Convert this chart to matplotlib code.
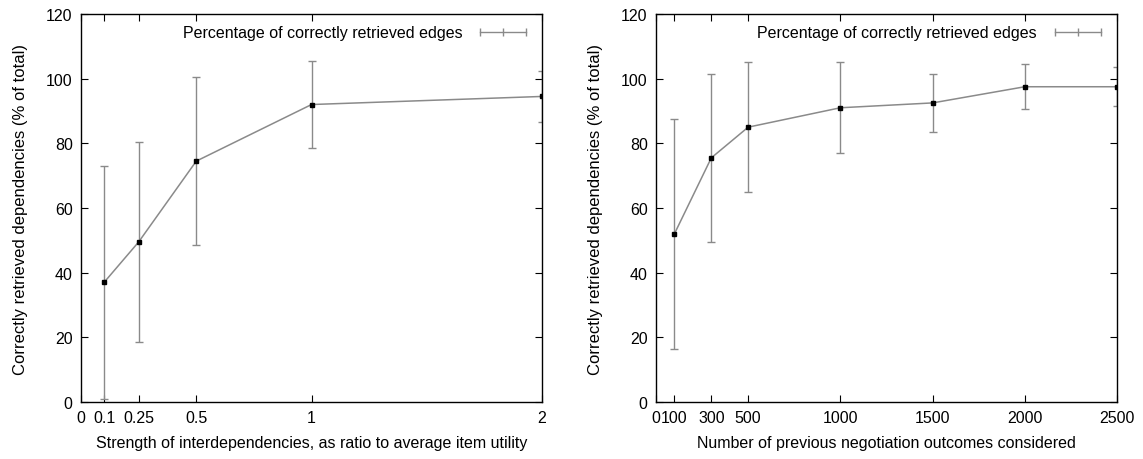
import numpy as np
import matplotlib.pyplot as plt
from matplotlib.lines import Line2D

plt.rcParams['font.family'] = ['Liberation Sans', 'DejaVu Sans']

# left panel: strength of interdependencies
strength = [0.1, 0.25, 0.5, 1, 2]
pct_strength = [37, 49.5, 74.5, 92, 94.5]
err_strength = [36, 31, 26, 13.5, 8]
strength_ticks = [0, 0.1, 0.25, 0.5, 1, 2]
strength_labels = ['0', '0.1', '0.25', '0.5', '1', '2']

# right panel: number of previous outcomes
outcomes = [100, 300, 500, 1000, 1500, 2000, 2500]
pct_outcomes = [52, 75.5, 85, 91, 92.5, 97.5, 97.5]
err_outcomes = [35.5, 26, 20, 14, 9, 7, 6]
outcome_ticks = [0, 100, 300, 500, 1000, 1500, 2000, 2500]
outcome_labels = ['0', '100', '300', '500', '1000', '1500', '2000', '2500']

ylab = 'Correctly retrieved dependencies (% of total)'
leg = 'Percentage of correctly retrieved edges'
grey = '#8a8a8a'

fig = plt.figure(figsize=(11.43, 4.6), dpi=100)
ax1 = fig.add_axes([0.0709, 0.1239, 0.4033, 0.8435])
ax2 = fig.add_axes([0.5739, 0.1239, 0.4033, 0.8435])


def panel(ax, x, y, e, ticks, labels, xmax, xlabel):
    ax.errorbar(x, y, yerr=e, color=grey, lw=1.1, elinewidth=1.0,
                capsize=3, capthick=1.0, marker='s', ms=3.5,
                mfc='black', mec='black')
    ax.set_xlim(0, xmax)
    ax.set_ylim(0, 120)
    ax.set_xticks(ticks)
    ax.set_xticklabels(labels)
    ax.set_yticks(range(0, 121, 20))
    ax.tick_params(direction='in', top=True, right=True, length=5,
                   labelsize=11.5, pad=6)
    ax.set_xlabel(xlabel, fontsize=11.5, labelpad=7)
    ax.set_ylabel(ylab, fontsize=12, labelpad=13)
    for s in ax.spines.values():
        s.set_linewidth(1.0)
    # gnuplot style key: line with little bars
    h = Line2D([], [], color=grey, lw=1.0, marker='|', ms=6, mec=grey)
    ax.legend([h], [leg], loc='upper right', frameon=False, markerfirst=False,
              fontsize=11.5, handlelength=3.5, numpoints=3, borderaxespad=0.3)


panel(ax1, strength, pct_strength, err_strength, strength_ticks,
      strength_labels, 2, 'Strength of interdependencies, as ratio to average item utility')
panel(ax2, outcomes, pct_outcomes, err_outcomes, outcome_ticks,
      outcome_labels, 2500, 'Number of previous negotiation outcomes considered')

fig.savefig('out.png', dpi=100)
